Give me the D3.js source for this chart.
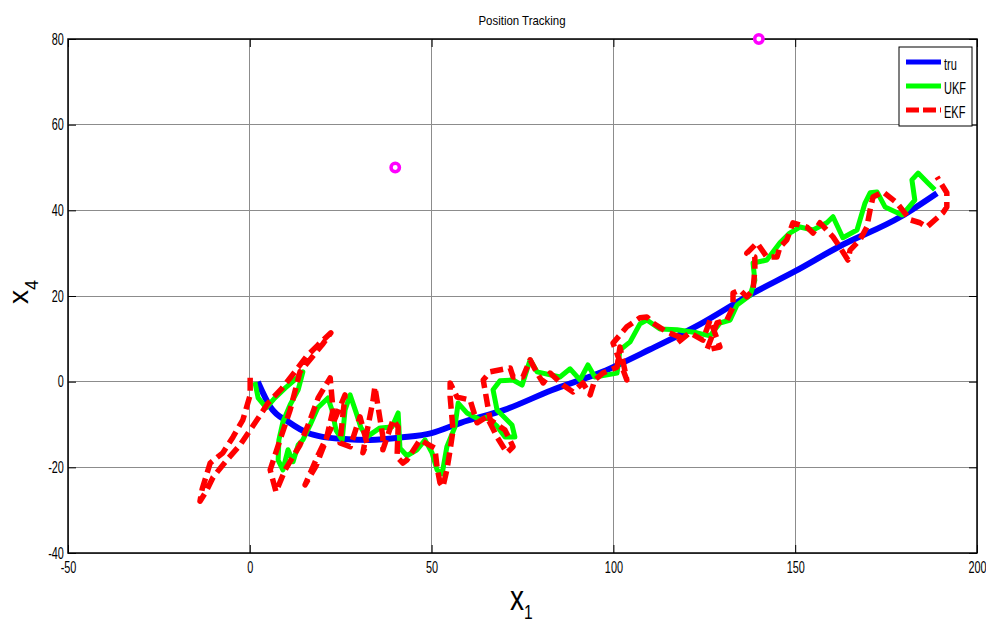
<!DOCTYPE html>
<html>
<head>
  <meta charset="utf-8">
  <style type="text/css">
    body { margin: 0; background: #fff; }
    svg { display: block; }
    text { font-family: "Liberation Sans", Arial, sans-serif; fill: #000; }
    .axis text { font-size: 16px; }
    .grid line { stroke: #8c8c8c; stroke-width: 1px; shape-rendering: crispEdges; }
    .track { fill: none; stroke-linejoin: round; }
  </style>
</head>
<body>
  <script src="https://d3js.org/d3.v7.min.js"></script>
  <script>
    // true track (x1, x4)
    var truX = [2.2, 5.6, 11, 16, 20, 26, 33, 42, 50, 58, 70, 83, 97, 110, 124, 138, 150, 162, 179, 189];
    var truY = [0, -5.8, -9.6, -12, -12.9, -13.4, -13.6, -13, -12, -9.6, -6.6, -2, 2.3, 7.5, 13.5, 20.5, 25.8, 31.5, 38.5, 44];

    // UKF estimate
    var ukfX = [1.4, 2.3, 4.5, 6.9, 9.7, 13.0, 14.6, 13.3, 11.1, 9.1, 8.0, 7.8, 9.1, 10.5, 11.9, 13.3, 14.6, 16.6, 18.7, 21.5,
                22.6, 23.7, 25.4, 26.2, 27.6, 29.2, 30.6, 32.2, 35.8, 39.1, 40.8, 41.3, 43.2, 46.0, 48.2, 50.1, 51.5, 52.9, 54.2, 56.4,
                57.3, 59.7, 63.3, 65.2, 68.0, 70.2, 72.9, 72.1, 68.0, 66.9, 68.8, 72.4, 74.9, 77.1, 79.0, 85.3, 88.1, 90.8, 93.0, 94.9,
                101.0, 101.8, 104.6, 107.3, 109.2, 112.8, 117.5, 123.0, 126.6, 129.3, 132.1, 134.0, 137.6, 138.9, 138.4, 142.2, 145.8, 148.5, 151.3, 154.9,
                158.7, 160.4, 163.1, 167.0, 169.2, 170.6, 172.5, 174.7, 179.4, 182.9, 182.1, 183.8, 186.5, 188.4];
    var ukfY = [-0.1, -3.8, -6.1, -3.8, -1.5, 0.9, 2.3, -1.9, -5.4, -9.4, -13.6, -18.3, -20.6, -15.9, -18.7, -14.8, -13.6, -10.1, -6.1, -3.8,
                -6.6, -11.3, -13.6, -6.6, -3.1, -7.1, -10.8, -12.9, -10.8, -10.6, -7.3, -15.5, -17.3, -15.9, -13.6, -16.6, -20.6, -21.5, -15.2, -10.6,
                -5.0, -7.3, -8.9, -8.3, -10.4, -12.9, -12.9, -10.1, -6.6, -1.9, 0.2, 0.4, -0.8, 5.1, 2.3, 1.1, 3.0, 0.4, 3.9, 1.1,
                2.0, 7.4, 9.3, 13.5, 14.4, 12.3, 12.1, 11.4, 10.7, 13.7, 14.4, 17.9, 20.2, 23.7, 27.7, 28.4, 32.4, 34.7, 36.1, 35.4,
                37.1, 38.5, 33.6, 35.4, 41.7, 44.1, 44.3, 40.8, 38.9, 42.4, 47.1, 48.7, 46.4, 44.8];

    // EKF estimate
    var ekfX = [0.1, 0.1, -1.9, -4.6, -7.4, -10.9, -13.1, -13.7, -12.0, -10.1, -6.3, -2.7, 2.0, 5.0, 8.9, 12.4, 15.5, 18.8, 22.3, 19.9, 13.8,
                11.1, 8.3, 5.6, 7.2, 9.7, 13.8, 16.6, 18.8, 22.1, 22.9, 21.0, 18.2, 15.2, 18.8, 22.1, 26.2, 25.6, 24.8, 27.6, 30.3,
                32.2, 31.1, 33.9, 34.4, 36.6, 36.6, 39.4, 40.8, 40.5, 42.1, 43.2, 46.8, 50.9, 51.5, 52.3, 53.1, 54.2, 55.1, 55.9, 55.1,
                55.1, 57.0, 60.6, 62.5, 65.2, 68.0, 70.7, 72.4, 70.2, 66.1, 64.2, 66.1, 71.6, 72.4, 75.1, 77.1, 79.0, 80.7, 82.6, 86.1,
                88.9, 91.6, 93.6, 94.9, 97.1, 101.0, 101.8, 103.7, 99.9, 103.7, 107.3, 109.2, 110.9, 114.7, 118.3, 117.5, 121.0, 124.6, 126.6, 129.3,
                125.7, 128.5, 131.2, 132.9, 132.9, 134.8, 136.7, 138.4, 138.9, 138.9, 136.7, 139.5, 142.2, 145.0, 145.8, 147.7, 149.4, 153.2, 154.9, 156.8,
                160.4, 162.3, 164.5, 165.1, 167.8, 169.7, 170.6, 171.4, 174.2, 178.0, 181.6, 184.3, 186.2, 190.6, 191.7, 191.7, 189.0];
    var ekfY = [0.9, -3.1, -8.9, -12.9, -16.6, -19.0, -25.1, -27.9, -25.6, -22.3, -18.3, -14.8, -8.9, -5.0, -1.5, 2.3, 5.8, 8.6, 11.4, 8.6, 2.3,
                -6.6, -13.6, -20.6, -25.7, -20.6, -14.8, -8.9, -3.8, 0.9, -6.6, -13.6, -19.7, -24.1, -17.1, -11.3, -3.1, -7.8, -14.3, -15.2, -8.2,
                -14.3, -16.6, -4.3, -1.2, -12.9, -15.9, -8.9, -10.6, -17.6, -19.0, -18.3, -13.6, -15.5, -19.9, -23.6, -24.6, -20.6, -15.9, -11.3, -3.6,
                -0.3, -3.6, -4.3, -9.6, -8.2, -12.9, -16.6, -15.2, -11.3, -8.9, 0.4, 2.3, 3.2, 1.1, 1.1, 5.1, 2.0, -0.3, 2.0, -0.8,
                -2.4, -0.3, -3.1, 0.4, 2.0, 3.4, 8.1, 0.4, 9.0, 12.8, 14.9, 15.1, 13.7, 11.6, 10.4, 9.0, 11.4, 9.7, 14.4, 8.1,
                7.4, 13.7, 14.4, 17.4, 20.7, 21.4, 19.8, 21.4, 26.1, 29.1, 30.0, 32.4, 29.1, 29.1, 31.4, 33.1, 37.1, 36.1, 34.7, 37.1,
                33.8, 31.4, 28.4, 30.7, 33.1, 36.1, 40.1, 43.1, 44.3, 41.7, 37.8, 37.1, 36.1, 39.4, 40.8, 44.1, 47.8];

    // landmarks
    var beaconX = [40, 140];
    var beaconY = [50, 80];

    var xTicks = [-50, 0, 50, 100, 150, 200];
    var yTicks = [-40, -20, 0, 20, 40, 60, 80];
    var seriesNames = ["tru", "UKF", "EKF"];

    var margin = {top: 39, right: 9, bottom: 71, left: 68};
    var width = 986 - margin.left - margin.right;
    var height = 624 - margin.top - margin.bottom;
    var squeeze = 0.68; // narrow look of the tick font

    var x = d3.scaleLinear().domain([-50, 200]).range([0, width]);
    var y = d3.scaleLinear().domain([-40, 80]).range([height, 0]);

    var svg = d3.select("body").append("svg")
      .attr("width", 986)
      .attr("height", 624);

    var g = svg.append("g")
      .attr("transform", "translate(" + margin.left + "," + margin.top + ")");

    // grid
    var grid = g.append("g").attr("class", "grid");
    grid.selectAll(".vx").data(xTicks).enter().append("line")
      .attr("x1", function(d) { return x(d); }).attr("x2", function(d) { return x(d); })
      .attr("y1", 0).attr("y2", height);
    grid.selectAll(".hy").data(yTicks).enter().append("line")
      .attr("y1", function(d) { return y(d); }).attr("y2", function(d) { return y(d); })
      .attr("x1", 0).attr("x2", width);

    // axes with inward ticks
    var fmt = function(d) { return String(d); };
    var xAxis = d3.axisBottom(x).tickValues(xTicks).tickSize(-8).tickPadding(9).tickFormat(fmt);
    var yAxis = d3.axisLeft(y).tickValues(yTicks).tickSize(-8).tickPadding(6).tickFormat(fmt);

    g.append("g").attr("class", "x axis")
      .attr("transform", "translate(0," + height + ")")
      .call(xAxis);
    g.append("g").attr("class", "y axis").call(yAxis);
    g.append("g")
      .call(d3.axisTop(x).tickValues(xTicks).tickSize(-8).tickFormat(""));
    g.append("g").attr("transform", "translate(" + width + ",0)")
      .call(d3.axisRight(y).tickValues(yTicks).tickSize(-8).tickFormat(""));

    g.selectAll(".domain").remove();
    g.selectAll(".tick line").attr("stroke", "#000");
    g.selectAll(".axis text").attr("transform", "scale(" + squeeze + ",1)");

    g.append("rect")
      .attr("width", width).attr("height", height)
      .attr("fill", "none").attr("stroke", "#000").attr("stroke-width", 1.5);

    // tracks
    function pts(xs, ys) { return xs.map(function(v, i) { return [v, ys[i]]; }); }
    var line = d3.line().x(function(d) { return x(d[0]); }).y(function(d) { return y(d[1]); });

    g.append("path").attr("class", "track")
      .attr("d", line.curve(d3.curveMonotoneX)(pts(truX, truY)))
      .attr("stroke", "#0000ff").attr("stroke-width", 6);

    line.curve(d3.curveLinear);
    g.append("path").attr("class", "track")
      .attr("d", line(pts(ukfX, ukfY)))
      .attr("stroke", "#00ff00").attr("stroke-width", 5);

    g.append("path").attr("class", "track")
      .attr("d", line(pts(ekfX, ekfY)))
      .attr("stroke", "#ff0000").attr("stroke-width", 5.5)
      .attr("stroke-dasharray", "13,6");

    // beacons
    g.selectAll(".beacon").data(pts(beaconX, beaconY)).enter().append("circle")
      .attr("cx", function(d) { return x(d[0]); })
      .attr("cy", function(d) { return y(d[1]); })
      .attr("r", 4.2)
      .attr("fill", "#fff").attr("stroke", "#ff00ff").attr("stroke-width", 3.5);

    // title and labels
    svg.append("text")
      .attr("transform", "translate(522,25) scale(0.88,1)")
      .attr("text-anchor", "middle").style("font-size", "13px")
      .text("Position Tracking");

    var xl = svg.append("text")
      .attr("transform", "translate(510,610) scale(0.78,1)")
      .style("font-size", "36px");
    xl.append("tspan").text("x");
    xl.append("tspan").attr("dy", 9).style("font-size", "20px").text("1");

    var yl = svg.append("text")
      .attr("transform", "translate(28,304) rotate(-90)")
      .style("font-size", "28px");
    yl.append("tspan").text("x");
    yl.append("tspan").attr("dy", 10).style("font-size", "18px").text("4");

    // legend
    var lg = svg.append("g").attr("transform", "translate(899,47)");
    lg.append("rect").attr("width", 73).attr("height", 79)
      .attr("fill", "#fff").attr("stroke", "#000").attr("stroke-width", 1);
    var colors = ["#0000ff", "#00ff00", "#ff0000"];
    var item = lg.selectAll(".item").data(seriesNames).enter().append("g")
      .attr("transform", function(d, i) { return "translate(0," + (15 + i * 24) + ")"; });
    item.append("line")
      .attr("x1", 7).attr("x2", 42)
      .attr("stroke", function(d, i) { return colors[i]; })
      .attr("stroke-width", 5)
      .attr("stroke-dasharray", function(d, i) { return i === 2 ? "13,4" : null; });
    item.append("text")
      .attr("transform", "translate(45,8) scale(0.65,1)")
      .style("font-size", "17px")
      .text(function(d) { return d; });
  </script>
</body>
</html>
